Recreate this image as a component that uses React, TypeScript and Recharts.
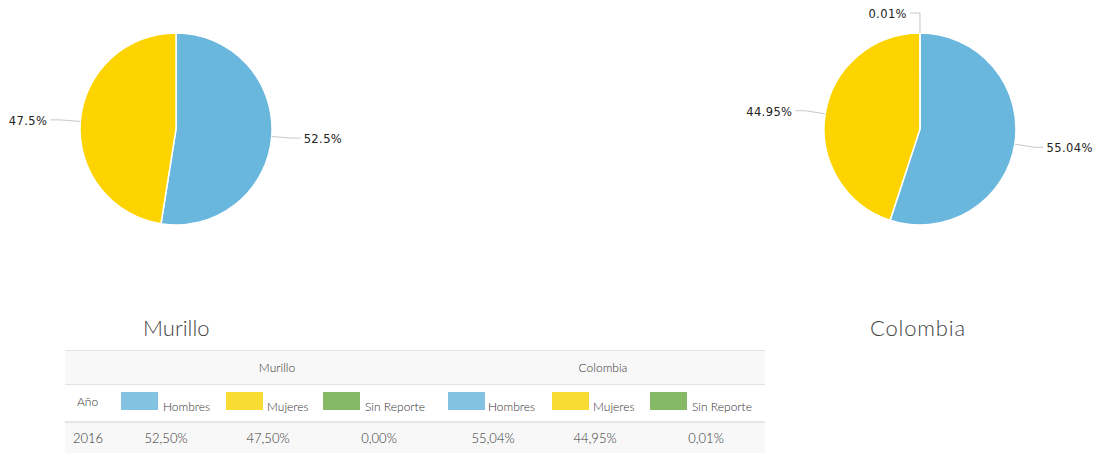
import React from "react";
import { PieChart, Pie, Cell } from "recharts";

const categories = ["Hombres", "Mujeres", "Sin Reporte"];
const murilloValues = [52.5, 47.5, 0];
const colombiaValues = [55.04, 44.95, 0.01];
const regions = ["Murillo", "Colombia"];
const year = "2016";

const pieColors = ["#69B7DC", "#FDD400", "#85B966"];
const swatchColors = ["#84C2E1", "#F9DC33", "#85B966"];

const murilloData = categories.map((name, i) => ({ name, value: murilloValues[i] }));
const colombiaData = categories.map((name, i) => ({ name, value: colombiaValues[i] }));

const RAD = Math.PI / 180;

const renderLabel = (p: any) => {
  if (!p.value) return null;
  const c = Math.cos(-p.midAngle * RAD);
  const s = Math.sin(-p.midAngle * RAD);
  const x1 = p.cx + p.outerRadius * c;
  const y1 = p.cy + p.outerRadius * s;
  const x2 = p.cx + (p.outerRadius + 20) * c;
  const y2 = p.cy + (p.outerRadius + 20) * s;
  const right = c >= 0;
  const x3 = x2 + (right ? 9 : -10);
  const tx = x3 + (right ? 3 : -3);
  return (
    <g>
      <path d={`M${x1},${y1}L${x2},${y2}L${x3},${y2}`} stroke="#c8c8c8" fill="none" strokeWidth={1} />
      <text
        x={tx}
        y={y2 + 1}
        textAnchor={right ? "start" : "end"}
        dominantBaseline="central"
        fill="#222"
        fontSize={11.5}
        fontFamily="DejaVu Sans, Verdana, sans-serif"
        style={{ letterSpacing: 0.4 }}
      >
        {`${p.value}%`}
      </text>
    </g>
  );
};

const fmt = (v: number) => v.toFixed(2).replace(".", ",") + "%";

const font = "Lato, 'Open Sans', sans-serif";

// layout (not data)
const swatchLefts = [[121, 226, 323], [448, 552, 650]];
const labelLefts = [[163, 267, 365], [488, 593, 692]];
const valueCenters = [[166, 268, 379], [493, 595, 706]];
const headerCenters = [277, 603];

export default function App() {
  return (
    <div style={{ position: "absolute", left: 0, top: 0, width: 1094, height: 453, background: "#fff", overflow: "hidden" }}>
      <PieChart
        width={1094}
        height={260}
        margin={{ top: 0, right: 0, bottom: 0, left: 0 }}
        style={{ position: "absolute", left: 0, top: 0 }}
      >
        <Pie
          data={murilloData}
          dataKey="value"
          cx={176}
          cy={129}
          outerRadius={96}
          startAngle={90}
          endAngle={-270}
          stroke="#fff"
          strokeWidth={1.5}
          isAnimationActive={false}
          label={renderLabel}
          labelLine={false}
        >
          {murilloData.map((d, i) => (
            <Cell key={d.name} fill={pieColors[i]} />
          ))}
        </Pie>
        <Pie
          data={colombiaData}
          dataKey="value"
          cx={920}
          cy={129}
          outerRadius={96}
          startAngle={90}
          endAngle={-270}
          stroke="#fff"
          strokeWidth={1.5}
          isAnimationActive={false}
          label={renderLabel}
          labelLine={false}
        >
          {colombiaData.map((d, i) => (
            <Cell key={d.name} fill={pieColors[i]} />
          ))}
        </Pie>
      </PieChart>

      <div style={{ position: "absolute", left: 143, top: 312, fontFamily: font, fontWeight: 300, fontSize: 22, color: "#444", lineHeight: "32px" }}>
        {regions[0]}
      </div>
      <div style={{ position: "absolute", left: 870, top: 312, fontFamily: font, fontWeight: 300, fontSize: 22, color: "#444", lineHeight: "32px", letterSpacing: 0.8 }}>
        {regions[1]}
      </div>

      {/* table */}
      <div style={{ position: "absolute", left: 65, top: 350, width: 700, height: 1, background: "#e2e2e2" }} />
      <div style={{ position: "absolute", left: 65, top: 351, width: 700, height: 33, background: "#f8f8f8" }} />
      <div style={{ position: "absolute", left: 65, top: 384, width: 700, height: 1, background: "#e2e2e2" }} />
      <div style={{ position: "absolute", left: 65, top: 421, width: 700, height: 2, background: "#e6e6e6" }} />
      <div style={{ position: "absolute", left: 65, top: 423, width: 700, height: 30, background: "#f8f8f8" }} />

      {regions.map((r, g) => (
        <div
          key={r}
          style={{ position: "absolute", left: headerCenters[g] - 60, width: 120, top: 360, textAlign: "center", fontFamily: font, fontWeight: 300, fontSize: 12, color: "#333", lineHeight: "16px" }}
        >
          {r}
        </div>
      ))}

      <div style={{ position: "absolute", left: 77, top: 394, fontFamily: font, fontWeight: 300, fontSize: 12, color: "#333", lineHeight: "16px" }}>
        Año
      </div>
      {[0, 1].map((g) =>
        categories.map((c, i) => (
          <React.Fragment key={`${g}-${c}`}>
            <div style={{ position: "absolute", left: swatchLefts[g][i], top: 392, width: 37, height: 18, background: swatchColors[i] }} />
            <div style={{ position: "absolute", left: labelLefts[g][i], top: 399, fontFamily: font, fontWeight: 300, fontSize: 12, color: "#333", lineHeight: "16px", whiteSpace: "nowrap" }}>
              {c}
            </div>
          </React.Fragment>
        ))
      )}

      <div style={{ position: "absolute", left: 73, top: 430, fontFamily: font, fontWeight: 300, fontSize: 13, color: "#333", lineHeight: "16px" }}>
        {year}
      </div>
      {[murilloValues, colombiaValues].map((vals, g) =>
        vals.map((v, i) => (
          <div
            key={`${g}-${i}`}
            style={{ position: "absolute", left: valueCenters[g][i] - 40, width: 80, top: 430, textAlign: "center", fontFamily: font, fontWeight: 300, fontSize: 13, color: "#333", lineHeight: "16px" }}
          >
            {fmt(v)}
          </div>
        ))
      )}
    </div>
  );
}
